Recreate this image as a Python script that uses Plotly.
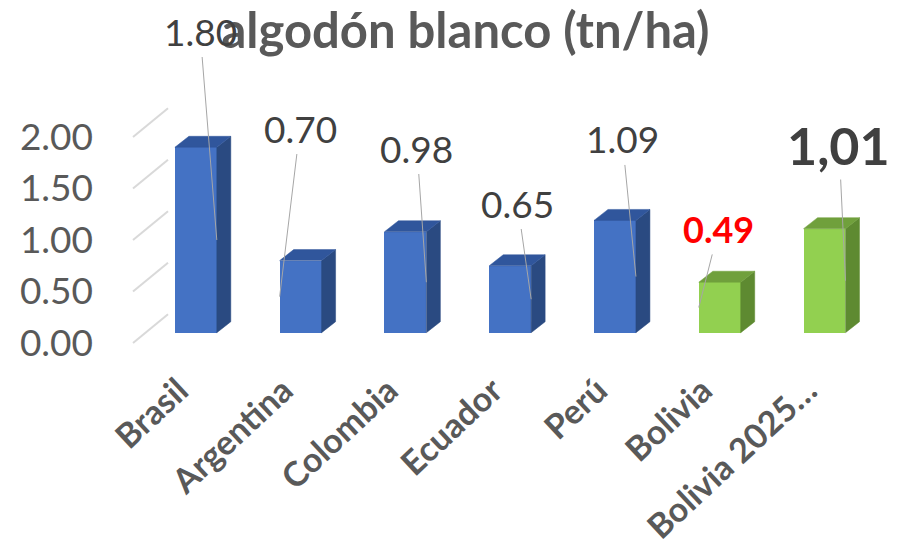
import plotly.graph_objects as go

# --- data -------------------------------------------------------------
categories = ["Brasil", "Argentina", "Colombia", "Ecuador", "Perú", "Bolivia", "Bolivia 2025…"]
yields = [1.80, 0.70, 0.98, 0.65, 1.09, 0.49, 1.01]
label_text = ["1.80", "0.70", "0.98", "0.65", "1.09", "0.49", "1,01"]
is_bolivia = [False, False, False, False, False, True, True]
y_ticks = [0.0, 0.5, 1.0, 1.5, 2.0]

# label placement (bar-axis units) and the bar edge the leader line points to
label_x = [0.04, 0.994, 2.11, 3.07, 4.07, 4.99, 6.138]
label_y = [2.929, 1.987, 1.793, 1.259, 1.881, 1.007, 1.822]
leader_side = [1, -1, 1, 1, 1, -1, 1]

# --- geometry ----------------------------------------------------------
W, H = 907, 549
PLOT_L, PLOT_R, PLOT_T, PLOT_B = 168, 903, 60, 345
X_PX = 104.78          # pixels per category step
Y_PX = 103.0           # pixels per unit of yield
FIRST_CENTER = 195.85  # px of first bar centre
BAR_ZERO = 332.7       # px of bar baseline
BACK_ZERO = 314.3      # px of back-wall zero line
FRONT_ZERO = 343.0     # px of front tick zero
BAR_W = 0.40
DEPTH_X = 14 / X_PX
DEPTH_Y = 11 / Y_PX


def y_range(zero_px):
    lo = -(PLOT_B - zero_px) / Y_PX
    return [lo, lo + (PLOT_B - PLOT_T) / Y_PX]


x_lo = -(FIRST_CENTER - PLOT_L) / X_PX
x_range = [x_lo, x_lo + (PLOT_R - PLOT_L) / X_PX]
back_offset = (FRONT_ZERO - BACK_ZERO) / Y_PX

BLUE = dict(front="#4472C4", top="#30569C", side="#2A4A81")
GREEN = dict(front="#92D050", top="#70A03C", side="#5E8A31")
pal = [GREEN if b else BLUE for b in is_bolivia]
GRID = "#D9D9D9"

fig = go.Figure()

# front faces
fig.add_trace(go.Bar(
    x=list(range(len(categories))), y=yields, width=BAR_W,
    marker=dict(color=[p["front"] for p in pal], line=dict(width=0)),
    hoverinfo="skip", showlegend=False,
))

# top and side faces of each column
for i, v in enumerate(yields):
    xr = i + BAR_W / 2
    xl = i - BAR_W / 2
    fig.add_trace(go.Scatter(
        x=[xr, xr + DEPTH_X, xr + DEPTH_X, xr, xr],
        y=[0, DEPTH_Y, v + DEPTH_Y, v, 0],
        mode="lines", fill="toself", fillcolor=pal[i]["side"],
        line=dict(width=0.5, color=pal[i]["side"]),
        hoverinfo="skip", showlegend=False,
    ))
    fig.add_trace(go.Scatter(
        x=[xl, xl + DEPTH_X, xr + DEPTH_X, xr, xl],
        y=[v, v + DEPTH_Y, v + DEPTH_Y, v, v],
        mode="lines", fill="toself", fillcolor=pal[i]["top"],
        line=dict(width=0.5, color=pal[i]["top"]),
        hoverinfo="skip", showlegend=False,
    ))

# floor-to-wall gridline segments
shapes = []
for t in y_ticks:
    shapes.append(dict(
        type="line", xref="paper", yref="y3",
        x0=133 / W, x1=PLOT_L / W, y0=t, y1=t + back_offset,
        line=dict(color=GRID, width=2), layer="below",
    ))

# data labels with leader lines
annotations = []
for i, v in enumerate(yields):
    if i == len(yields) - 1:
        font = dict(family="Lato", size=52, color="#404040", weight="bold")
    elif is_bolivia[i]:
        font = dict(family="Lato", size=36, color="#FF0000", weight="bold")
    else:
        font = dict(family="Lato", size=37, color="#404040")
    annotations.append(dict(
        x=i + leader_side[i] * BAR_W / 2, y=v / 2, xref="x", yref="y",
        ax=label_x[i], ay=label_y[i], axref="x", ayref="y",
        text=label_text[i], font=font,
        showarrow=True, arrowhead=0, arrowwidth=1, arrowcolor="#A6A6A6",
        startstandoff=2,
    ))

ydom = [1 - PLOT_B / H, 1 - PLOT_T / H]

fig.update_layout(
    width=W, height=H,
    margin=dict(l=0, r=0, t=0, b=0, autoexpand=False),
    paper_bgcolor="white", plot_bgcolor="rgba(0,0,0,0)",
    bargap=0,
    title=dict(
        text="<b>algodón blanco (tn/ha)</b>",
        x=465.5 / W, xanchor="center", y=1 - 31 / H, yanchor="middle",
        font=dict(family="Lato", size=49, color="#595959"),
        automargin=False,
    ),
    xaxis=dict(
        domain=[PLOT_L / W, PLOT_R / W], range=x_range, automargin=False,
        tickmode="array", tickvals=list(range(len(categories))), ticktext=categories,
        tickangle=-43, ticks="", showgrid=False, zeroline=False, showline=False,
        tickfont=dict(family="Lato", size=34, color="#595959", weight="bold"),
        ticklabelstandoff=18, ticklabelshift=-17,
    ),
    yaxis=dict(domain=ydom, range=y_range(BAR_ZERO), visible=False, automargin=False),
    yaxis2=dict(
        overlaying="y", range=y_range(BACK_ZERO), automargin=False,
        tickmode="array", tickvals=y_ticks, showticklabels=False,
        showgrid=True, gridcolor=GRID, gridwidth=2,
        zeroline=False, showline=False, ticks="",
    ),
    yaxis3=dict(
        overlaying="y", range=y_range(FRONT_ZERO), automargin=False,
        tickmode="array", tickvals=y_ticks, tickformat=".2f",
        showgrid=False, zeroline=False, showline=False, ticks="",
        tickfont=dict(family="Lato", size=37, color="#595959"),
        ticklabelstandoff=74,
    ),
    shapes=shapes,
    annotations=annotations,
)

fig.write_html("out.html")
